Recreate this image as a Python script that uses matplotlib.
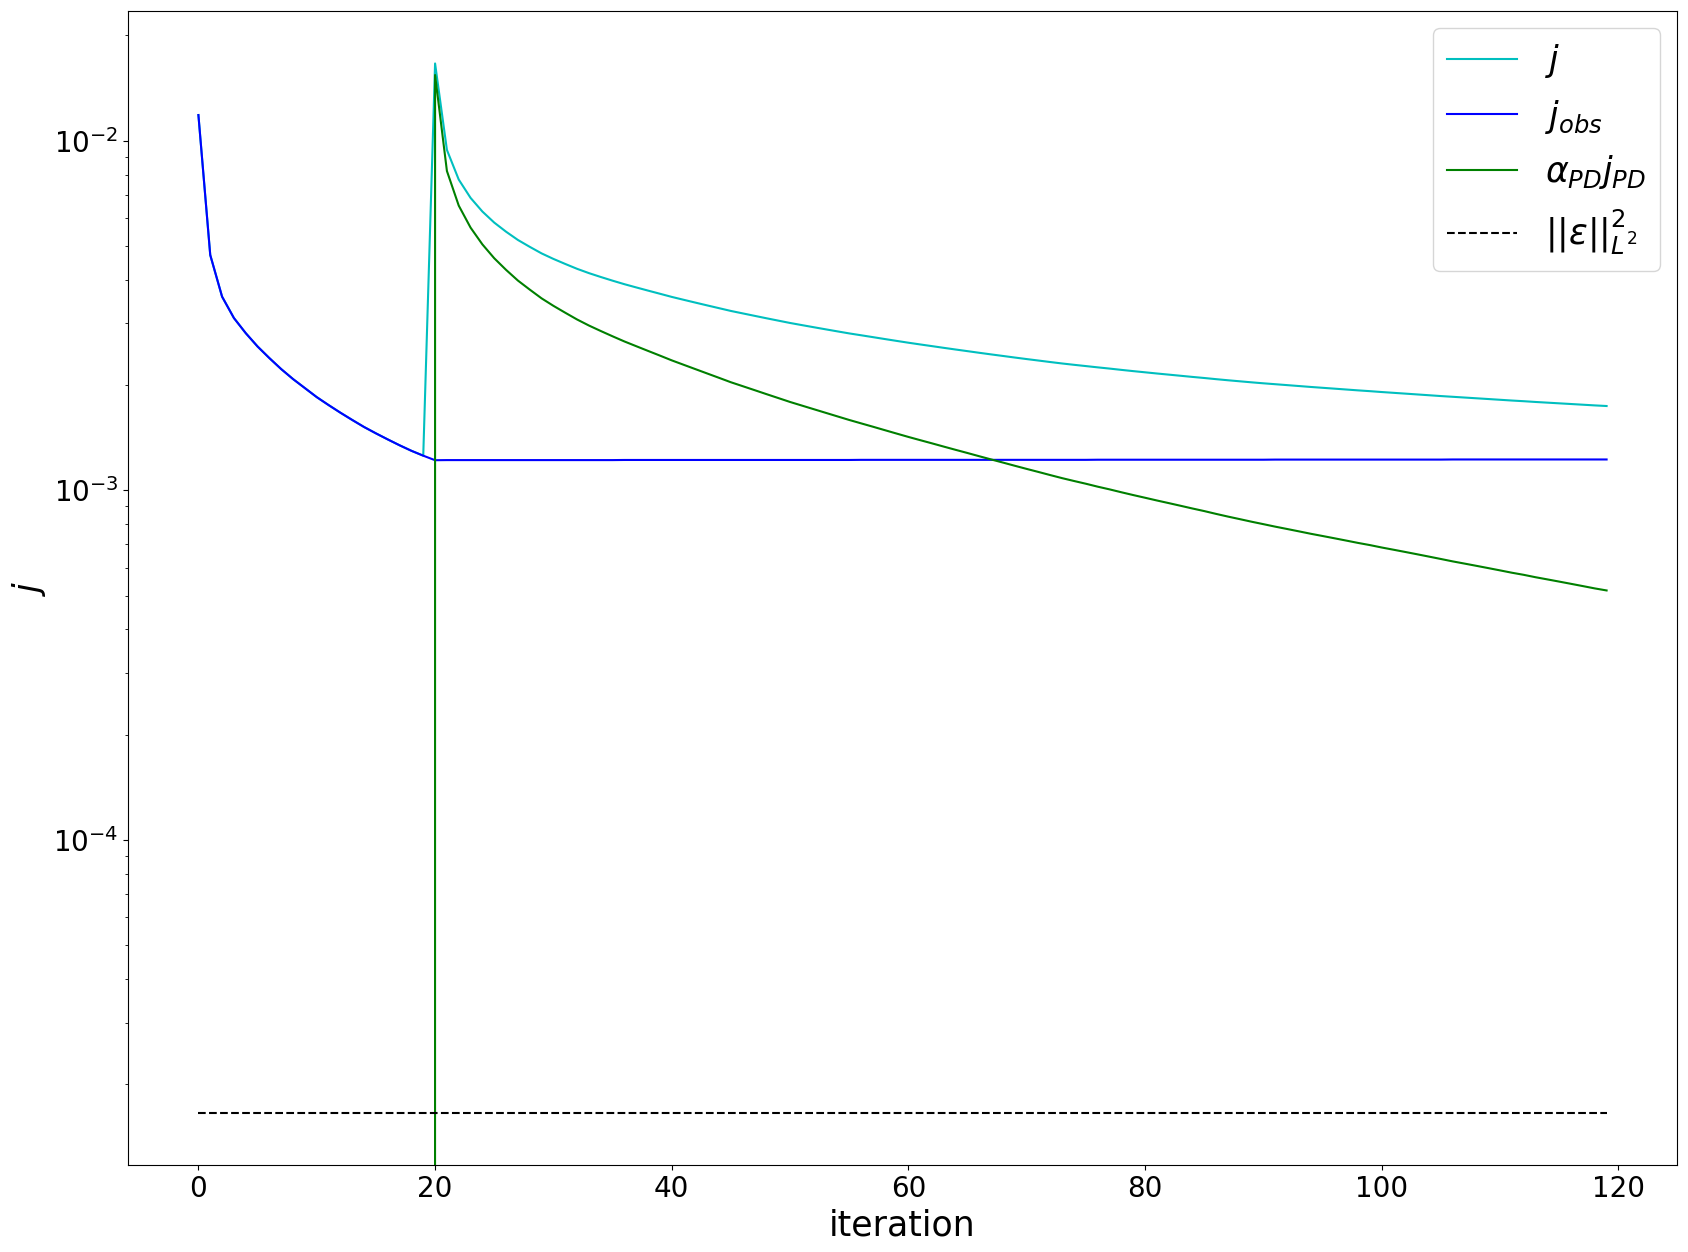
import numpy as np
import matplotlib
matplotlib.use("Agg")
import matplotlib.pyplot as plt

iterations = np.arange(120)

# j_obs (x1e-3)
j_obs_e3 = [11.84, 4.71, 3.58, 3.11, 2.815, 2.578, 2.388, 2.221, 2.080, 1.960,
            1.847, 1.753, 1.667, 1.589, 1.517, 1.455, 1.398, 1.345, 1.297, 1.256,
            1.219] + [1.220] * 15 + [1.221] * 20 + [1.222] * 20 + [1.223] * 15 + [1.224] * 15 + [1.225] * 14

# alpha_PD * j_PD (x1e-3), zero before iteration 20
alpha_jpd_e3 = [0.0] * 20 + [
    15.41, 8.19, 6.52, 5.64, 5.05, 4.61, 4.27, 3.98, 3.75, 3.54,
    3.37, 3.22, 3.08, 2.96, 2.855, 2.757, 2.665, 2.583, 2.504, 2.428,
    2.353, 2.286, 2.221, 2.158, 2.097, 2.037, 1.985, 1.934, 1.884, 1.836,
    1.789, 1.747, 1.706, 1.666, 1.627, 1.589, 1.554, 1.520, 1.486, 1.453,
    1.421, 1.391, 1.362, 1.333, 1.305, 1.278, 1.251, 1.225, 1.200, 1.175,
    1.151, 1.128, 1.105, 1.083, 1.063, 1.044, 1.024, 1.006, 0.987, 0.969,
    0.952, 0.935, 0.919, 0.903, 0.887, 0.872, 0.856, 0.841, 0.827, 0.813,
    0.800, 0.787, 0.775, 0.763, 0.751, 0.740, 0.729, 0.718, 0.707, 0.697,
    0.686, 0.676, 0.666, 0.656, 0.646, 0.636, 0.626, 0.617, 0.608, 0.599,
    0.590, 0.581, 0.573, 0.564, 0.556, 0.548, 0.540, 0.532, 0.524, 0.517]

# total j (x1e-3)
j_total_e3 = j_obs_e3[:20] + [
    16.63, 9.41, 7.74, 6.86, 6.27, 5.83, 5.49, 5.20, 4.97, 4.76,
    4.59, 4.44, 4.30, 4.18, 4.075, 3.977, 3.886, 3.804, 3.725, 3.649,
    3.574, 3.507, 3.442, 3.379, 3.318, 3.258, 3.206, 3.155, 3.105, 3.057,
    3.010, 2.968, 2.927, 2.887, 2.848, 2.810, 2.776, 2.742, 2.708, 2.675,
    2.643, 2.613, 2.584, 2.555, 2.527, 2.500, 2.473, 2.447, 2.422, 2.397,
    2.373, 2.350, 2.327, 2.305, 2.285, 2.266, 2.247, 2.229, 2.210, 2.192,
    2.175, 2.158, 2.142, 2.126, 2.110, 2.095, 2.079, 2.064, 2.050, 2.036,
    2.023, 2.011, 1.999, 1.987, 1.975, 1.964, 1.953, 1.942, 1.931, 1.921,
    1.910, 1.900, 1.890, 1.880, 1.870, 1.860, 1.851, 1.842, 1.833, 1.824,
    1.815, 1.806, 1.798, 1.789, 1.781, 1.773, 1.765, 1.757, 1.749, 1.742]

eps_norm = 1.66e-5

j_obs = np.array(j_obs_e3) * 1e-3
alpha_jpd = np.array(alpha_jpd_e3) * 1e-3
j_total = np.array(j_total_e3) * 1e-3

fig = plt.figure(figsize=(16.88, 12.52), dpi=100)
ax = fig.add_axes([128 / 1688, 1 - 1165 / 1252, (1677 - 128) / 1688, (1165 - 11) / 1252])

ax.plot(iterations, j_total, color='c', lw=1.5, label=r'$j$')
ax.plot(iterations, j_obs, color='b', lw=1.5, label=r'$j_{obs}$')
ax.plot(iterations, alpha_jpd, color='g', lw=1.5, label=r'$\alpha_{PD}j_{PD}$')
ax.plot(iterations, np.full(len(iterations), eps_norm), color='k', ls='--', lw=1.5,
        label=r'$||\varepsilon||_{L^2}^2$')
ax.set_yscale('log')

ax.set_xlabel('iteration', fontsize=25)
ax.set_ylabel(r'$j$', fontsize=25)
ax.tick_params(axis='both', labelsize=20)
ax.legend(loc='upper right', fontsize=25)

fig.savefig('out.png', dpi=100)
